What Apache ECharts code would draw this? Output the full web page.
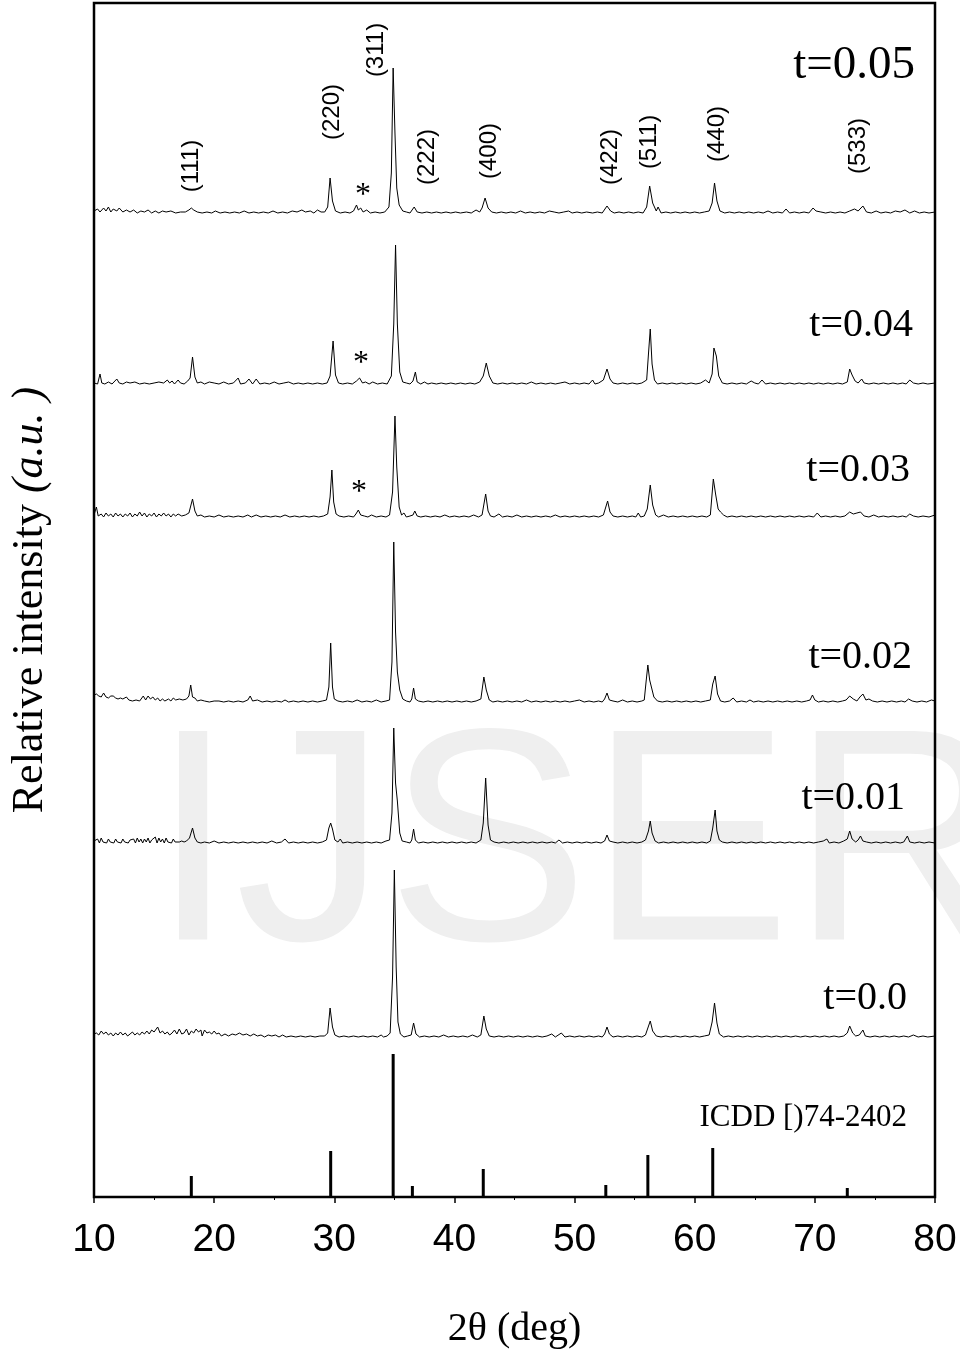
<!DOCTYPE html>
<html>
<head>
<meta charset="utf-8">
<script src="https://cdn.jsdelivr.net/npm/echarts@6/dist/echarts.min.js"></script>
<style>
  html, body { margin: 0; background: #fff; }
  #chart { width: 960px; height: 1362px; }
</style>
</head>
<body>
<div id="chart"></div>
<script>
// XRD patterns, 2theta (deg) vs intensity above each pattern's own baseline (a.u.)
const t005 = [[10.0,2],[10.3,4],[10.5,1],[10.8,5],[11.0,2],[11.2,6],[11.4,1],[11.6,4],[11.9,2],[12.1,5],[12.4,1],[12.7,3],[13.0,1],[13.3,3],[13.6,0],[13.9,2],[14.2,1],[14.5,3],[14.8,0],[15.1,2],[15.4,0],[15.7,2],[16.0,1],[16.4,2],[16.8,0],[17.2,1],[17.6,1],[17.9,3],[18.1,5],[18.3,3],[18.6,1],[19.0,0],[19.4,1],[19.8,0],[20.1,2],[20.5,0],[20.9,1],[21.3,0],[21.7,1],[22.1,0],[22.5,2],[22.9,0],[23.3,1],[23.7,0],[24.1,1],[24.5,0],[24.9,2],[25.3,0],[25.7,1],[26.1,0],[26.5,2],[26.9,1],[27.3,3],[27.6,1],[28.0,2],[28.3,0],[28.6,3],[28.9,1],[29.2,1],[29.45,6],[29.65,35],[29.85,12],[30.1,2],[30.5,0],[30.9,1],[31.3,0],[31.6,2],[31.85,8],[32.0,3],[32.2,5],[32.4,1],[32.7,3],[33.0,0],[33.4,1],[33.8,0],[34.2,1],[34.55,6],[34.75,40],[34.9,145],[35.05,80],[35.2,25],[35.4,8],[35.7,2],[36.0,1],[36.3,0],[36.65,6],[36.9,1],[37.3,0],[37.7,1],[38.1,0],[38.5,1],[38.9,0],[39.3,1],[39.7,0],[40.1,1],[40.5,0],[41.0,1],[41.4,0],[41.8,3],[42.1,1],[42.3,5],[42.55,15],[42.8,5],[43.1,1],[43.5,0],[43.9,1],[44.3,0],[44.7,1],[45.1,0],[45.5,2],[45.9,0],[46.3,1],[46.7,0],[47.1,1],[47.5,0],[47.9,2],[48.3,1],[48.7,0],[49.1,1],[49.5,2],[49.8,0],[50.2,1],[50.6,0],[51.0,1],[51.5,0],[51.9,1],[52.3,0],[52.7,7],[53.0,2],[53.3,0],[53.7,1],[54.1,0],[54.5,1],[54.9,0],[55.3,1],[55.7,0],[56.0,6],[56.25,27],[56.5,10],[56.8,2],[56.95,6],[57.2,0],[57.6,1],[58.0,0],[58.4,1],[58.8,0],[59.2,1],[59.6,0],[60.0,1],[60.4,0],[60.8,1],[61.2,2],[61.45,10],[61.65,30],[61.85,12],[62.1,2],[62.5,0],[62.9,1],[63.3,0],[63.7,1],[64.1,0],[64.5,1],[64.9,0],[65.3,1],[65.7,0],[66.1,2],[66.5,0],[66.9,1],[67.3,0],[67.6,4],[67.9,0],[68.3,1],[68.7,0],[69.1,1],[69.5,0],[69.85,5],[70.1,2],[70.5,1],[70.9,0],[71.3,1],[71.7,0],[72.1,1],[72.5,0],[72.9,2],[73.3,4],[73.6,2],[74.0,7],[74.3,1],[74.7,0],[75.1,2],[75.5,0],[75.9,1],[76.3,0],[76.7,2],[77.1,1],[77.5,3],[77.9,0],[78.3,2],[78.7,0],[79.1,1],[79.5,0],[80.0,1]]

const t004 = [[10.0,1],[10.3,0],[10.5,10],[10.65,1],[10.9,0],[11.2,2],[11.5,0],[11.9,5],[12.1,1],[12.4,0],[12.7,2],[13.0,1],[13.4,2],[13.8,0],[14.2,1],[14.6,0],[15.0,1],[15.4,2],[15.8,1],[16.1,4],[16.3,1],[16.5,3],[16.7,0],[17.0,4],[17.2,1],[17.5,0],[17.8,3],[18.0,6],[18.2,27],[18.4,7],[18.6,1],[18.9,2],[19.2,0],[19.6,2],[20.0,1],[20.4,0],[20.8,2],[21.2,0],[21.6,1],[22.0,6],[22.2,0],[22.6,1],[22.9,5],[23.2,0],[23.5,5],[23.8,0],[24.2,1],[24.6,0],[25.0,2],[25.4,0],[25.8,1],[26.2,2],[26.6,0],[27.0,1],[27.4,0],[27.8,1],[28.2,0],[28.6,1],[29.0,0],[29.4,1],[29.65,8],[29.9,43],[30.1,9],[30.35,1],[30.7,0],[31.1,1],[31.5,0],[31.85,3],[32.1,6],[32.35,1],[32.6,2],[32.9,0],[33.2,2],[33.6,0],[34.0,1],[34.4,0],[34.75,8],[34.95,60],[35.1,139],[35.25,60],[35.45,12],[35.7,2],[36.0,1],[36.3,0],[36.55,3],[36.75,12],[36.9,2],[37.2,0],[37.5,2],[37.8,0],[38.1,1],[38.5,0],[38.9,1],[39.3,0],[39.7,1],[40.1,0],[40.5,1],[40.9,0],[41.3,1],[41.7,0],[42.1,2],[42.4,8],[42.65,21],[42.9,8],[43.2,1],[43.6,0],[44.0,1],[44.4,0],[44.8,1],[45.2,0],[45.6,1],[46.0,0],[46.4,2],[46.8,0],[47.2,1],[47.6,0],[48.0,1],[48.4,0],[48.8,1],[49.2,2],[49.6,0],[50.0,1],[50.4,0],[50.8,1],[51.2,0],[51.5,4],[51.7,0],[52.0,1],[52.4,4],[52.7,15],[52.95,5],[53.2,1],[53.6,0],[54.0,1],[54.4,0],[54.8,1],[55.2,0],[55.6,1],[56.0,4],[56.15,30],[56.3,55],[56.45,20],[56.65,4],[56.9,0],[57.3,1],[57.7,0],[58.1,1],[58.5,0],[58.9,1],[59.3,0],[59.7,1],[60.1,0],[60.5,1],[60.9,4],[61.2,1],[61.45,10],[61.6,36],[61.8,28],[62.0,8],[62.3,1],[62.7,0],[63.1,1],[63.5,0],[63.9,1],[64.3,0],[64.7,3],[65.0,1],[65.3,0],[65.6,4],[65.9,0],[66.3,1],[66.7,0],[67.1,1],[67.5,0],[67.9,1],[68.3,0],[68.7,1],[69.1,0],[69.5,1],[69.9,0],[70.3,1],[70.7,0],[71.1,1],[71.5,0],[71.9,1],[72.3,0],[72.7,2],[72.9,15],[73.1,9],[73.35,3],[73.6,1],[73.9,5],[74.1,1],[74.5,0],[74.9,1],[75.3,0],[75.7,1],[76.1,0],[76.5,1],[76.9,0],[77.3,1],[77.6,0],[77.9,4],[78.2,1],[78.6,0],[79.0,1],[79.4,0],[80.0,1]]

const t003 = [[10.0,2],[10.2,10],[10.35,1],[10.6,3],[10.8,0],[11.0,4],[11.2,1],[11.4,3],[11.6,0],[11.8,4],[12.0,1],[12.2,3],[12.4,0],[12.6,3],[12.8,1],[13.0,4],[13.2,0],[13.4,3],[13.6,1],[13.8,5],[14.0,1],[14.2,4],[14.4,0],[14.6,3],[14.8,1],[15.0,4],[15.2,0],[15.4,3],[15.6,1],[15.8,4],[16.0,1],[16.2,3],[16.4,0],[16.6,3],[16.8,1],[17.0,3],[17.3,1],[17.6,2],[17.9,4],[18.2,18],[18.4,6],[18.6,1],[18.9,2],[19.2,0],[19.6,1],[20.0,0],[20.4,2],[20.8,0],[21.2,1],[21.6,0],[22.0,1],[22.4,0],[22.8,2],[23.1,0],[23.5,2],[23.9,0],[24.3,1],[24.7,0],[25.1,1],[25.5,0],[25.9,2],[26.3,0],[26.7,1],[27.1,0],[27.5,1],[27.9,0],[28.3,1],[28.7,0],[29.1,1],[29.45,3],[29.65,20],[29.8,47],[29.95,15],[30.15,3],[30.4,1],[30.8,0],[31.2,1],[31.6,0],[31.8,3],[32.0,7],[32.2,2],[32.5,1],[32.8,0],[33.1,2],[33.5,0],[33.9,1],[34.3,0],[34.6,2],[34.85,25],[35.05,101],[35.2,50],[35.4,10],[35.6,2],[35.8,4],[36.0,0],[36.3,1],[36.55,2],[36.7,6],[36.9,1],[37.2,0],[37.6,1],[38.0,0],[38.4,1],[38.8,0],[39.2,2],[39.6,0],[40.0,1],[40.4,0],[40.8,1],[41.2,0],[41.6,2],[42.0,0],[42.3,2],[42.6,23],[42.8,6],[43.0,1],[43.3,0],[43.7,3],[44.0,0],[44.4,1],[44.8,0],[45.2,2],[45.6,0],[46.0,1],[46.4,0],[46.8,1],[47.2,0],[47.6,1],[48.0,0],[48.4,2],[48.8,0],[49.2,1],[49.6,0],[50.0,1],[50.4,0],[50.8,1],[51.2,0],[51.6,1],[52.0,0],[52.4,2],[52.75,16],[52.95,5],[53.2,1],[53.6,0],[54.0,1],[54.4,0],[54.8,1],[55.1,0],[55.3,4],[55.5,0],[55.8,1],[56.05,8],[56.3,32],[56.5,12],[56.75,2],[57.0,0],[57.4,2],[57.8,0],[58.2,1],[58.6,0],[59.0,1],[59.4,0],[59.8,1],[60.2,0],[60.6,1],[61.0,0],[61.3,2],[61.55,38],[61.75,22],[61.95,8],[62.15,5],[62.4,2],[62.7,0],[63.1,1],[63.5,0],[63.9,1],[64.3,0],[64.7,1],[65.1,0],[65.5,1],[65.9,0],[66.3,1],[66.7,0],[67.1,1],[67.5,0],[67.9,1],[68.3,0],[68.7,1],[69.1,0],[69.5,1],[69.9,0],[70.2,4],[70.5,0],[70.9,1],[71.3,0],[71.7,1],[72.1,0],[72.5,1],[72.9,5],[73.2,3],[73.5,4],[73.8,5],[74.1,1],[74.5,0],[74.9,2],[75.3,0],[75.7,1],[76.1,0],[76.5,1],[76.9,0],[77.3,1],[77.6,0],[77.9,3],[78.2,1],[78.6,0],[79.0,1],[79.5,0],[80.0,2]]

const t002 = [[10.0,7],[10.2,8],[10.4,6],[10.6,5],[10.8,9],[11.0,5],[11.2,4],[11.4,6],[11.6,6],[11.8,4],[12.0,3],[12.2,4],[12.4,3],[12.7,5],[12.9,2],[13.2,1],[13.5,2],[13.8,1],[14.1,6],[14.3,2],[14.5,6],[14.7,3],[14.9,5],[15.1,2],[15.3,4],[15.5,1],[15.7,3],[15.9,1],[16.2,3],[16.4,1],[16.6,4],[16.8,2],[17.1,3],[17.4,2],[17.7,3],[17.9,6],[18.05,17],[18.2,5],[18.4,4],[18.6,1],[18.9,2],[19.2,1],[19.6,0],[20.0,1],[20.4,1],[20.8,0],[21.2,1],[21.6,0],[22.0,1],[22.4,0],[22.8,2],[23.0,6],[23.2,1],[23.6,2],[24.0,0],[24.4,1],[24.8,0],[25.2,1],[25.6,0],[25.9,2],[26.2,0],[26.6,1],[27.0,0],[27.4,1],[27.8,0],[28.2,1],[28.6,0],[29.0,1],[29.35,2],[29.55,15],[29.7,59],[29.85,15],[30.0,3],[30.3,1],[30.7,0],[31.1,1],[31.5,0],[31.9,2],[32.3,0],[32.7,1],[33.1,0],[33.5,2],[33.9,0],[34.3,1],[34.6,2],[34.8,40],[34.95,160],[35.1,70],[35.25,30],[35.45,12],[35.7,3],[36.0,1],[36.3,0],[36.45,3],[36.6,14],[36.75,3],[37.0,1],[37.4,0],[37.8,1],[38.2,0],[38.6,1],[39.0,0],[39.4,1],[39.8,0],[40.2,1],[40.6,0],[41.0,1],[41.4,0],[41.8,1],[42.2,3],[42.45,25],[42.65,12],[42.9,2],[43.2,0],[43.6,1],[44.0,0],[44.4,1],[44.8,0],[45.2,1],[45.6,0],[46.0,2],[46.4,0],[46.8,1],[47.2,0],[47.6,1],[48.0,0],[48.4,1],[48.8,0],[49.2,1],[49.6,0],[50.0,1],[50.4,2],[50.8,0],[51.2,1],[51.6,0],[52.0,1],[52.3,0],[52.5,3],[52.7,9],[52.9,2],[53.2,1],[53.6,0],[54.0,2],[54.4,0],[54.8,1],[55.2,0],[55.6,1],[55.8,2],[55.95,20],[56.1,37],[56.25,22],[56.4,20],[56.6,5],[56.9,1],[57.3,0],[57.7,1],[58.1,0],[58.5,1],[58.9,0],[59.3,1],[59.7,0],[60.1,1],[60.5,0],[60.9,1],[61.3,2],[61.5,18],[61.7,26],[61.9,8],[62.15,1],[62.5,0],[62.9,1],[63.2,4],[63.5,0],[63.9,1],[64.3,0],[64.6,2],[64.9,0],[65.3,1],[65.7,0],[66.1,1],[66.5,0],[66.9,1],[67.3,0],[67.7,1],[68.1,0],[68.5,1],[68.9,0],[69.3,1],[69.6,2],[69.8,7],[70.0,2],[70.3,0],[70.7,1],[71.1,0],[71.5,1],[71.9,0],[72.3,1],[72.6,2],[72.9,6],[73.2,3],[73.5,1],[73.75,5],[74.0,8],[74.25,2],[74.5,3],[74.8,1],[75.2,0],[75.6,1],[76.0,0],[76.4,1],[76.8,0],[77.2,1],[77.5,0],[77.8,3],[78.1,1],[78.5,0],[78.9,1],[79.3,0],[79.7,2],[80.0,1]]

const t001 = [[10.0,2],[10.15,1],[10.3,4],[10.45,0],[10.6,5],[10.75,1],[10.9,3],[11.05,0],[11.2,4],[11.35,1],[11.5,2],[11.65,0],[11.8,4],[11.95,1],[12.1,3],[12.25,0],[12.4,4],[12.55,1],[12.7,3],[12.85,0],[13.0,3],[13.15,1],[13.3,4],[13.45,0],[13.6,5],[13.75,1],[13.9,4],[14.05,0],[14.2,4],[14.35,1],[14.5,5],[14.65,0],[14.8,3],[14.95,1],[15.1,6],[15.25,0],[15.4,5],[15.55,1],[15.7,4],[15.85,0],[16.0,5],[16.15,1],[16.3,3],[16.45,0],[16.6,4],[16.75,1],[16.9,3],[17.1,1],[17.3,2],[17.5,1],[17.7,2],[17.95,5],[18.2,15],[18.4,5],[18.6,1],[18.9,0],[19.2,1],[19.6,0],[20.0,2],[20.4,0],[20.8,1],[21.2,0],[21.6,1],[22.0,0],[22.4,1],[22.8,0],[23.2,1],[23.6,0],[24.0,1],[24.4,0],[24.8,2],[25.2,0],[25.6,1],[25.9,4],[26.2,0],[26.6,1],[27.0,0],[27.4,1],[27.8,0],[28.2,1],[28.6,0],[29.0,1],[29.35,3],[29.55,15],[29.7,20],[29.85,14],[30.05,3],[30.3,1],[30.5,4],[30.7,0],[31.1,1],[31.5,0],[31.9,1],[32.3,0],[32.7,1],[33.1,0],[33.5,1],[33.9,0],[34.3,2],[34.6,3],[34.8,30],[34.95,115],[35.1,60],[35.25,42],[35.45,10],[35.65,2],[36.0,1],[36.3,0],[36.45,3],[36.6,14],[36.75,3],[37.0,0],[37.4,1],[37.8,0],[38.2,1],[38.6,0],[39.0,1],[39.4,0],[39.8,1],[40.2,0],[40.6,1],[41.0,0],[41.4,1],[41.8,0],[42.2,3],[42.4,20],[42.6,65],[42.8,18],[43.0,3],[43.3,1],[43.7,0],[44.1,1],[44.5,0],[44.9,1],[45.3,0],[45.7,1],[46.1,0],[46.5,1],[46.9,0],[47.3,1],[47.7,0],[48.1,1],[48.4,0],[48.7,3],[49.0,0],[49.4,1],[49.8,0],[50.2,1],[50.6,0],[51.0,1],[51.4,0],[51.8,1],[52.2,0],[52.5,2],[52.7,8],[52.9,2],[53.2,1],[53.6,0],[54.0,1],[54.4,0],[54.8,1],[55.2,0],[55.6,1],[55.9,3],[56.15,12],[56.3,22],[56.45,10],[56.7,2],[57.0,0],[57.4,1],[57.8,0],[58.2,1],[58.6,0],[59.0,1],[59.4,0],[59.8,1],[60.2,0],[60.6,1],[61.0,0],[61.3,2],[61.5,15],[61.7,33],[61.85,12],[62.05,3],[62.3,1],[62.7,0],[63.1,1],[63.5,0],[63.9,1],[64.3,0],[64.7,1],[65.1,0],[65.5,1],[65.9,0],[66.3,1],[66.7,0],[67.1,1],[67.5,0],[67.9,1],[68.3,0],[68.7,1],[69.1,0],[69.5,1],[69.9,0],[70.3,1],[70.7,2],[71.0,4],[71.2,0],[71.6,1],[72.0,0],[72.4,2],[72.7,4],[72.9,12],[73.1,4],[73.4,1],[73.6,3],[73.8,7],[74.0,2],[74.3,1],[74.7,0],[75.1,1],[75.5,0],[75.9,1],[76.3,0],[76.7,1],[77.1,0],[77.4,1],[77.7,7],[77.9,1],[78.3,0],[78.7,1],[79.1,0],[79.5,1],[80.0,0]]

const t000 = [[10.0,3],[10.2,4],[10.4,2],[10.6,6],[10.8,3],[11.0,5],[11.2,2],[11.4,4],[11.6,1],[11.8,4],[12.0,2],[12.2,5],[12.4,2],[12.6,4],[12.8,1],[13.0,3],[13.2,5],[13.4,2],[13.6,4],[13.8,2],[14.0,5],[14.2,3],[14.4,6],[14.6,3],[14.8,7],[15.0,5],[15.3,10],[15.5,4],[15.7,6],[15.9,3],[16.1,5],[16.3,2],[16.5,4],[16.7,7],[16.9,3],[17.1,8],[17.3,3],[17.5,4],[17.7,8],[17.9,2],[18.1,6],[18.3,4],[18.5,8],[18.7,5],[18.9,7],[19.0,1],[19.2,7],[19.4,4],[19.6,5],[19.8,3],[20.0,6],[20.2,3],[20.4,4],[20.6,1],[20.9,3],[21.2,1],[21.5,3],[21.8,2],[22.1,4],[22.4,2],[22.7,3],[23.0,1],[23.3,3],[23.6,1],[23.9,2],[24.2,0],[24.5,2],[24.8,1],[25.1,2],[25.4,0],[25.7,2],[26.0,0],[26.4,1],[26.8,0],[27.2,1],[27.6,0],[28.0,1],[28.4,0],[28.8,1],[29.2,1],[29.45,4],[29.65,29],[29.85,10],[30.05,2],[30.4,0],[30.8,1],[31.2,0],[31.6,1],[32.0,0],[32.4,1],[32.8,0],[33.2,1],[33.6,0],[33.9,2],[34.1,0],[34.4,1],[34.65,4],[34.85,60],[35.0,167],[35.15,70],[35.3,15],[35.5,3],[35.8,0],[36.1,1],[36.4,2],[36.6,14],[36.8,3],[37.1,0],[37.5,1],[37.9,0],[38.3,1],[38.7,0],[39.1,2],[39.5,0],[39.9,1],[40.3,0],[40.7,1],[41.1,0],[41.5,2],[41.9,0],[42.2,2],[42.45,21],[42.65,8],[42.9,1],[43.3,0],[43.7,1],[44.1,0],[44.5,1],[44.9,0],[45.3,1],[45.7,0],[46.1,1],[46.5,0],[46.9,1],[47.3,0],[47.7,1],[48.1,3],[48.4,0],[48.9,4],[49.2,0],[49.6,1],[50.0,0],[50.4,1],[50.8,0],[51.2,1],[51.6,0],[52.0,1],[52.3,0],[52.5,3],[52.7,10],[52.9,3],[53.2,0],[53.6,1],[54.0,0],[54.4,1],[54.8,0],[55.2,1],[55.6,0],[55.9,2],[56.1,9],[56.3,16],[56.5,6],[56.8,1],[57.2,0],[57.6,1],[58.0,0],[58.4,1],[58.8,0],[59.2,1],[59.6,0],[60.0,1],[60.4,0],[60.8,1],[61.2,2],[61.45,15],[61.65,34],[61.85,14],[62.05,3],[62.4,0],[62.8,1],[63.2,0],[63.6,1],[64.0,0],[64.4,1],[64.8,0],[65.2,1],[65.6,0],[66.0,1],[66.4,0],[66.8,1],[67.2,0],[67.6,1],[68.0,0],[68.4,1],[68.8,0],[69.2,1],[69.6,0],[70.0,1],[70.4,0],[70.8,1],[71.2,0],[71.6,1],[72.0,0],[72.4,1],[72.7,4],[72.9,11],[73.15,4],[73.4,1],[73.7,2],[74.0,7],[74.2,1],[74.6,0],[75.0,1],[75.4,0],[75.8,1],[76.2,0],[76.6,1],[77.0,0],[77.4,1],[77.8,0],[78.2,2],[78.6,0],[79.0,1],[79.4,0],[80.0,1]]

// reference card lines (ICDD 74-2402)
const icdd = [[18.1,21],[29.7,46],[34.9,143],[36.5,11],[42.4,28],[52.6,12],[56.1,42],[61.5,49],[72.7,9]]

// stacking: each pattern's baseline level on the shared intensity scale
const patterns = [t005, t004, t003, t002, t001, t000]
const baselines = [984, 813, 680, 495, 354, 160]
const sampleNames = ['t=0.05', 't=0.04', 't=0.03', 't=0.02', 't=0.01', 't=0.0']
const sampleLabelAt = [[78.34,1131],[78.17,872],[77.92,727],[78.09,540],[77.51,399],[77.67,199]]

const hklNames = ['(111)', '(220)', '(311)', '(222)', '(400)', '(422)', '(511)', '(440)', '(533)']
const hklLabelAt = [[18.07,1031],[29.81,1085],[33.47,1147],[37.72,1040],[42.88,1046],[52.95,1040],[56.2,1055],[61.86,1063],[73.59,1051]]
const starAt = [[32.39,1001],[32.22,833],[32.06,704]]
const cardName = ['ICDD [)74-2402']
const cardLabelAt = [[77.67,79]]

const xTicks = { min: 10, max: 80, step: 10 }
const yRange = { min: 0, max: 1194 }

function textSeries (names, at, font, align, rotation = 0) {
  return {
    type: 'custom',
    silent: true,
    clip: false,
    z: 5,
    data: at.map((p, i) => [p[0], p[1], i]),
    renderItem: (params, api) => {
      const pt = api.coord([api.value(0), api.value(1)])
      return {
        type: 'text',
        x: pt[0],
        y: pt[1],
        rotation,
        style: {
          text: names[api.value(2)],
          font,
          fill: '#000',
          align,
          verticalAlign: 'middle'
        }
      }
    }
  }
}

const lineSeries = patterns.map((p, i) => ({
  type: 'line',
  name: sampleNames[i],
  data: p.map(d => [d[0], d[1] + baselines[i]]),
  symbol: 'none',
  showSymbol: false,
  lineStyle: { color: '#000', width: 1 },
  z: 3
}))

const chart = echarts.init(document.getElementById('chart'))
chart.setOption({
  animation: false,
  backgroundColor: '#fff',
  grid: {
    left: 94, right: 25, top: 3, bottom: 165,
    show: true, borderColor: '#000', borderWidth: 2.5,
    containLabel: false, outerBoundsMode: 'none'
  },
  graphic: {
    elements: [{
      type: 'text',
      x: 151,
      y: 856,
      z: -10,
      silent: true,
      style: { text: 'IJSER', font: '303px "Liberation Sans"', fill: '#efefef', verticalAlign: 'middle' }
    }]
  },
  xAxis: {
    type: 'value',
    min: xTicks.min,
    max: xTicks.max,
    interval: xTicks.step,
    axisLine: { show: true, lineStyle: { color: '#000', width: 2 } },
    axisTick: { show: true, inside: false, length: 6, lineStyle: { color: '#000', width: 1.5 } },
    minorTick: { show: true, splitNumber: 2, length: 3, lineStyle: { color: '#000', width: 1 } },
    splitLine: { show: false },
    axisLabel: { color: '#000', fontSize: 39, fontFamily: 'Liberation Sans', margin: 24 },
    name: '2θ (deg)',
    nameLocation: 'middle',
    nameGap: 112,
    nameTextStyle: { color: '#000', fontSize: 40, fontFamily: 'Liberation Serif' }
  },
  yAxis: {
    type: 'value',
    min: yRange.min,
    max: yRange.max,
    axisLine: { show: false },
    axisTick: { show: false },
    axisLabel: { show: false },
    splitLine: { show: false },
    name: 'Relative intensity {i|(a.u. )}',
    nameLocation: 'middle',
    nameRotate: 90,
    nameGap: 42,
    nameTextStyle: {
      color: '#000', fontSize: 44, fontFamily: 'Liberation Serif',
      rich: { i: { fontSize: 44, fontFamily: 'Liberation Serif', fontStyle: 'italic', color: '#000' } }
    }
  },
  series: [
    ...lineSeries,
    {
      type: 'bar',
      name: 'ICDD',
      data: icdd,
      barWidth: 3,
      itemStyle: { color: '#000' },
      z: 3
    },
    textSeries(sampleNames.slice(0, 1), sampleLabelAt.slice(0, 1), '47px "Liberation Serif"', 'right'),
    textSeries(sampleNames.slice(1), sampleLabelAt.slice(1), '40px "Liberation Serif"', 'right'),
    textSeries(hklNames, hklLabelAt, '24px "Liberation Sans"', 'center', Math.PI / 2),
    textSeries(starAt.map(() => '*'), starAt, '32px "Liberation Serif"', 'center'),
    textSeries(cardName, cardLabelAt, '31px "Liberation Serif"', 'right')
  ]
})
</script>
</body>
</html>
